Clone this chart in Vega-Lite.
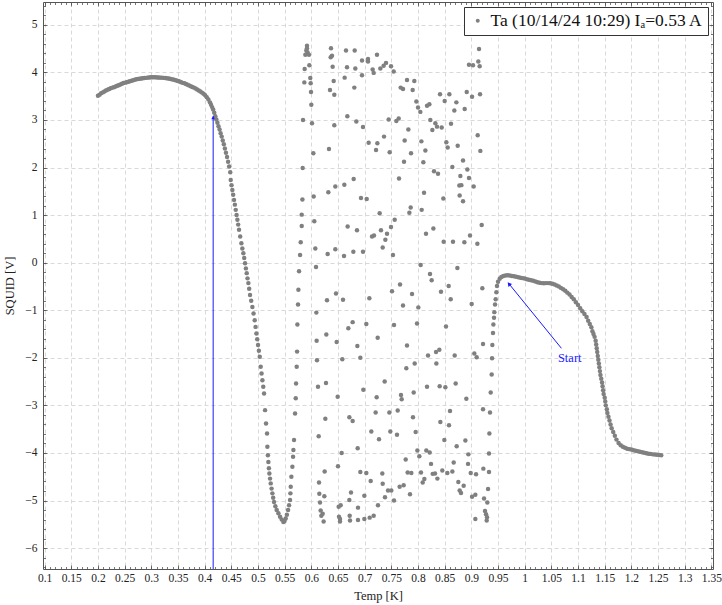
{
"$schema":"https://vega.github.io/schema/vega-lite/v6.json",
"width":670,"height":567,"autosize":"none",
"padding":{"left":43,"top":2,"right":9,"bottom":36},
"config":{"view":{"stroke":null},
"axis":{"labelFont":"Liberation Serif","titleFont":"Liberation Serif","labelFontSize":11.5,"titleFontSize":12.5,"titleFontWeight":"normal","domainColor":"#555","tickColor":"#555","labelColor":"#222","titleColor":"#222","gridColor":"#d9d9d9","gridDash":[4,3],"tickWidth":0.8,"domainWidth":1},
"legend":{"labelFont":"Liberation Serif","labelFontSize":17.5,"labelLimit":500,"labelColor":"#111","strokeColor":"#333","fillColor":"white","padding":5,"offset":5,"symbolSize":16,"symbolType":"circle","symbolStrokeWidth":0,"labelOffset":4,"cornerRadius":0}},
"datasets":{
"pts":[
{"T":0.2,"V":3.51},{"T":0.203,"V":3.53},{"T":0.206,"V":3.56},{"T":0.209,"V":3.58},{"T":0.212,"V":3.6},{"T":0.215,"V":3.62},{"T":0.218,"V":3.635},{"T":0.221,"V":3.65},{"T":0.224,"V":3.665},{"T":0.227,"V":3.68},{"T":0.23,"V":3.69},{"T":0.233,"V":3.705},{"T":0.236,"V":3.72},{"T":0.239,"V":3.73},{"T":0.242,"V":3.745},{"T":0.245,"V":3.76},{"T":0.248,"V":3.775},{"T":0.251,"V":3.785},{"T":0.254,"V":3.795},{"T":0.257,"V":3.805},{"T":0.26,"V":3.815},{"T":0.263,"V":3.825},{"T":0.266,"V":3.835},{"T":0.269,"V":3.845},{"T":0.272,"V":3.855},{"T":0.275,"V":3.86},{"T":0.278,"V":3.865},{"T":0.281,"V":3.87},{"T":0.284,"V":3.875},{"T":0.287,"V":3.88},{"T":0.29,"V":3.885},{"T":0.293,"V":3.89},{"T":0.296,"V":3.895},{"T":0.299,"V":3.9},{"T":0.302,"V":3.9},{"T":0.305,"V":3.9},{"T":0.308,"V":3.9},{"T":0.311,"V":3.895},{"T":0.314,"V":3.895},{"T":0.317,"V":3.89},{"T":0.32,"V":3.89},{"T":0.323,"V":3.885},{"T":0.326,"V":3.88},{"T":0.329,"V":3.875},{"T":0.332,"V":3.87},{"T":0.335,"V":3.865},{"T":0.338,"V":3.855},{"T":0.341,"V":3.85},{"T":0.344,"V":3.84},{"T":0.347,"V":3.83},{"T":0.35,"V":3.82},{"T":0.353,"V":3.81},{"T":0.356,"V":3.795},{"T":0.359,"V":3.78},{"T":0.362,"V":3.77},{"T":0.365,"V":3.755},{"T":0.368,"V":3.74},{"T":0.371,"V":3.725},{"T":0.374,"V":3.71},{"T":0.377,"V":3.695},{"T":0.38,"V":3.68},{"T":0.383,"V":3.66},{"T":0.386,"V":3.64},{"T":0.389,"V":3.62},{"T":0.392,"V":3.6},{"T":0.395,"V":3.575},{"T":0.398,"V":3.55},{"T":0.401,"V":3.52},{"T":0.404,"V":3.48},{"T":0.407,"V":3.43},{"T":0.41,"V":3.37},{"T":0.412,"V":3.32},{"T":0.414,"V":3.27},{"T":0.416,"V":3.22},{"T":0.418,"V":3.15},{"T":0.42,"V":3.08},{"T":0.422,"V":3.01},{"T":0.424,"V":2.94},{"T":0.426,"V":2.87},{"T":0.428,"V":2.8},{"T":0.43,"V":2.72},{"T":0.432,"V":2.65},{"T":0.434,"V":2.57},{"T":0.436,"V":2.49},{"T":0.438,"V":2.4},{"T":0.44,"V":2.31},{"T":0.442,"V":2.22},{"T":0.444,"V":2.12},{"T":0.446,"V":2.02},{"T":0.448,"V":1.9},
{"T":0.4489,"V":1.74},{"T":0.4504,"V":1.63},{"T":0.452,"V":1.53},{"T":0.4535,"V":1.43},{"T":0.4551,"V":1.32},{"T":0.4567,"V":1.22},{"T":0.4583,"V":1.11},{"T":0.4599,"V":1.0},{"T":0.4614,"V":0.9},{"T":0.4629,"V":0.8},{"T":0.4645,"V":0.69},{"T":0.4667,"V":0.55},{"T":0.4689,"V":0.41},{"T":0.4707,"V":0.3},{"T":0.4726,"V":0.2},{"T":0.4742,"V":0.1},{"T":0.4758,"V":-0.01},{"T":0.4773,"V":-0.12},{"T":0.4789,"V":-0.22},{"T":0.4804,"V":-0.33},{"T":0.482,"V":-0.43},{"T":0.4835,"V":-0.55},{"T":0.4851,"V":-0.68},{"T":0.4873,"V":-0.8},{"T":0.4895,"V":-0.93},{"T":0.4917,"V":-1.07},{"T":0.4939,"V":-1.21},{"T":0.4955,"V":-1.35},{"T":0.497,"V":-1.49},{"T":0.4986,"V":-1.61},{"T":0.5001,"V":-1.73},{"T":0.5017,"V":-1.85},{"T":0.5033,"V":-1.98},{"T":0.5051,"V":-2.19},{"T":0.5067,"V":-2.33},{"T":0.5083,"V":-2.47},{"T":0.5099,"V":-2.61},{"T":0.5114,"V":-2.75},{"T":0.5133,"V":-3.1},{"T":0.5151,"V":-3.38},{"T":0.517,"V":-3.59},{"T":0.5176,"V":-3.87},{"T":0.5186,"V":-4.05},{"T":0.5195,"V":-4.19},{"T":0.5205,"V":-4.32},{"T":0.5214,"V":-4.43},{"T":0.5226,"V":-4.54},{"T":0.5239,"V":-4.64},{"T":0.5255,"V":-4.75},{"T":0.527,"V":-4.85},{"T":0.5285,"V":-4.94},{"T":0.5301,"V":-5.03},{"T":0.5326,"V":-5.12},{"T":0.5351,"V":-5.2},{"T":0.5383,"V":-5.27},{"T":0.5414,"V":-5.34},{"T":0.5445,"V":-5.4},{"T":0.5476,"V":-5.45},{"T":0.5498,"V":-5.43},{"T":0.552,"V":-5.38},{"T":0.5542,"V":-5.3},{"T":0.5564,"V":-5.2},{"T":0.5583,"V":-5.1},{"T":0.5601,"V":-4.99},{"T":0.5608,"V":-4.85},{"T":0.5614,"V":-4.71},{"T":0.5626,"V":-4.5},{"T":0.5645,"V":-4.29},{"T":0.5658,"V":-4.08},{"T":0.5664,"V":-3.94},{"T":0.5676,"V":-3.73},{"T":0.5695,"V":-3.17},{"T":0.5708,"V":-2.85},{"T":0.5714,"V":-2.54},{"T":0.5726,"V":-2.19},{"T":0.5733,"V":-1.87},{"T":0.5739,"V":-1.3},{"T":0.5751,"V":-0.88},{"T":0.5758,"V":-0.57},{"T":0.577,"V":-0.18},{"T":0.5789,"V":0.16},{"T":0.5801,"V":0.43},{"T":0.582,"V":0.77},{"T":0.582,"V":1.01},{"T":0.5833,"V":1.33},{"T":0.5838,"V":1.99},{"T":0.5844,"V":3.0},{"T":0.5869,"V":3.79},{"T":0.5875,"V":4.07},
{"T":0.5919,"V":4.56},{"T":0.5919,"V":4.51},{"T":0.5906,"V":4.46},{"T":0.5931,"V":4.42},{"T":0.5888,"V":4.37},{"T":0.5956,"V":4.37},
{"T":0.6369,"V":4.51},{"T":0.6363,"V":4.32},{"T":0.6388,"V":4.35},{"T":0.665,"V":4.46},{"T":0.6813,"V":4.46},{"T":0.5963,"V":4.15},{"T":0.64,"V":4.12},{"T":0.6669,"V":4.11},{"T":0.6825,"V":4.08},{"T":0.695,"V":4.25},{"T":0.7063,"V":4.28},{"T":0.7063,"V":4.23},{"T":0.715,"V":4.06},{"T":0.7169,"V":3.99},{"T":0.7231,"V":4.37},{"T":0.7294,"V":4.08},{"T":0.7356,"V":4.14},{"T":0.74,"V":4.2},{"T":0.7494,"V":4.13},{"T":0.7544,"V":4.02},{"T":0.5981,"V":3.88},{"T":0.5988,"V":3.77},{"T":0.5994,"V":3.59},{"T":0.6419,"V":3.82},{"T":0.635,"V":3.63},{"T":0.6431,"V":3.53},{"T":0.6625,"V":3.89},{"T":0.695,"V":3.94},{"T":0.6806,"V":3.68},{"T":0.6,"V":3.32},{"T":0.6013,"V":2.93},{"T":0.6675,"V":3.08},{"T":0.6844,"V":2.97},{"T":0.6431,"V":2.89},{"T":0.6969,"V":2.85},{"T":0.745,"V":3.01},{"T":0.7075,"V":2.52},{"T":0.7238,"V":2.51},{"T":0.7213,"V":2.37},{"T":0.7363,"V":2.65},{"T":0.7469,"V":2.32},{"T":0.6331,"V":2.39},{"T":0.6038,"V":2.3},{"T":0.6794,"V":1.76},{"T":0.6619,"V":1.64},{"T":0.645,"V":1.6},{"T":0.6319,"V":1.48},{"T":0.6044,"V":1.39},{"T":0.6931,"V":1.36},{"T":0.7038,"V":1.34},{"T":0.7281,"V":1.04},{"T":0.6056,"V":0.87},{"T":0.6681,"V":0.76},{"T":0.6856,"V":0.68},{"T":0.7563,"V":0.9},{"T":0.7138,"V":0.55},{"T":0.7175,"V":0.57},{"T":0.7306,"V":0.68},{"T":0.7494,"V":0.75},{"T":0.7419,"V":0.61},{"T":0.7388,"V":0.48},{"T":0.6075,"V":0.3},{"T":0.645,"V":0.28},{"T":0.6306,"V":0.18},{"T":0.6613,"V":0.14},{"T":0.6788,"V":0.23},{"T":0.6969,"V":0.23},{"T":0.7338,"V":0.32},{"T":0.7531,"V":0.16},{"T":0.6088,"V":-0.09},
{"T":0.9144,"V":4.49},{"T":0.8956,"V":4.16},{"T":0.9031,"V":4.15},{"T":0.9131,"V":4.23},{"T":0.9156,"V":4.13},{"T":0.7794,"V":3.84},{"T":0.7931,"V":3.82},{"T":0.7675,"V":3.68},{"T":0.7719,"V":3.65},{"T":0.79,"V":3.63},{"T":0.8413,"V":3.54},{"T":0.8588,"V":3.54},{"T":0.8913,"V":3.59},{"T":0.9163,"V":3.54},{"T":0.9013,"V":3.49},{"T":0.7969,"V":3.39},{"T":0.85,"V":3.4},{"T":0.8719,"V":3.37},{"T":0.8,"V":3.26},{"T":0.8169,"V":3.3},{"T":0.8213,"V":3.33},{"T":0.8044,"V":3.17},{"T":0.8681,"V":3.2},{"T":0.8875,"V":3.23},{"T":0.7594,"V":2.98},{"T":0.7638,"V":3.03},{"T":0.8231,"V":3.0},{"T":0.8325,"V":2.93},{"T":0.8356,"V":2.86},{"T":0.8444,"V":2.84},{"T":0.8269,"V":2.79},{"T":0.8619,"V":2.92},{"T":0.7819,"V":2.8},{"T":0.9119,"V":2.68},{"T":0.775,"V":2.57},{"T":0.8063,"V":2.55},{"T":0.8531,"V":2.53},{"T":0.7869,"V":2.3},{"T":0.8138,"V":2.36},{"T":0.8556,"V":2.42},{"T":0.8744,"V":2.46},{"T":0.9169,"V":2.35},{"T":0.7738,"V":2.12},{"T":0.81,"V":2.11},{"T":0.8844,"V":2.15},{"T":0.8644,"V":2.01},{"T":0.83,"V":1.92},{"T":0.8375,"V":1.87},{"T":0.8925,"V":1.96},{"T":0.7644,"V":1.77},{"T":0.8794,"V":1.82},{"T":0.8956,"V":1.78},{"T":0.8775,"V":1.62},{"T":0.8813,"V":1.63},{"T":0.9044,"V":1.6},{"T":0.8113,"V":1.47},{"T":0.8475,"V":1.35},{"T":0.8781,"V":1.41},{"T":0.8844,"V":1.29},{"T":0.7863,"V":1.16},{"T":0.7838,"V":1.05},{"T":0.8069,"V":1.11},{"T":0.9194,"V":0.79},{"T":0.815,"V":0.61},{"T":0.8288,"V":0.72},{"T":0.8975,"V":0.57},{"T":0.8481,"V":0.44},{"T":0.8656,"V":0.44},{"T":0.8869,"V":0.43},{"T":0.9113,"V":0.4},{"T":0.805,"V":-0.05},{"T":0.8738,"V":-0.11},{"T":0.8225,"V":-0.24},{"T":0.8256,"V":-0.37},{"T":0.7663,"V":-0.46},{"T":0.8575,"V":-0.49},{"T":0.9206,"V":-0.54},
{"T":0.6463,"V":-0.65},{"T":0.6294,"V":-0.79},{"T":0.6594,"V":-0.78},{"T":0.7088,"V":-0.75},{"T":0.7513,"V":-0.6},{"T":0.6094,"V":-1.05},{"T":0.6775,"V":-1.25},{"T":0.6694,"V":-1.38},{"T":0.7031,"V":-1.29},{"T":0.755,"V":-1.31},{"T":0.6281,"V":-1.51},{"T":0.61,"V":-1.64},{"T":0.6475,"V":-1.67},{"T":0.7244,"V":-1.58},{"T":0.6863,"V":-1.75},{"T":0.6106,"V":-2.05},{"T":0.6581,"V":-2.03},{"T":0.6919,"V":-2.0},{"T":0.6125,"V":-2.61},{"T":0.6275,"V":-2.53},{"T":0.7375,"V":-2.5},{"T":0.6975,"V":-2.67},{"T":0.6494,"V":-2.82},{"T":0.7225,"V":-2.83},{"T":0.7206,"V":-3.15},{"T":0.7463,"V":-3.15},{"T":0.6263,"V":-3.28},{"T":0.6713,"V":-3.25},{"T":0.6775,"V":-3.33},{"T":0.6138,"V":-3.65},{"T":0.7125,"V":-3.55},{"T":0.7481,"V":-3.55},{"T":0.7269,"V":-3.71},{"T":0.6869,"V":-3.9},{"T":0.6569,"V":-4.0},{"T":0.65,"V":-4.28},{"T":0.625,"V":-4.39},{"T":0.6919,"V":-4.4},{"T":0.7031,"V":-4.42},{"T":0.7331,"V":-4.43},{"T":0.6144,"V":-4.62},{"T":0.7113,"V":-4.59},{"T":0.7338,"V":-4.65},{"T":0.7438,"V":-4.79},{"T":0.75,"V":-4.79},{"T":0.615,"V":-4.86},{"T":0.6244,"V":-4.91},{"T":0.6744,"V":-4.83},{"T":0.6994,"V":-4.9},{"T":0.7381,"V":-4.93},{"T":0.6713,"V":-4.99},{"T":0.755,"V":-5.0},{"T":0.6163,"V":-5.04},{"T":0.655,"V":-5.1},{"T":0.6513,"V":-5.13},{"T":0.6875,"V":-5.15},{"T":0.725,"V":-5.1},{"T":0.6175,"V":-5.21},{"T":0.6213,"V":-5.28},{"T":0.6188,"V":-5.32},{"T":0.6231,"V":-5.44},{"T":0.6519,"V":-5.34},{"T":0.6538,"V":-5.39},{"T":0.6538,"V":-5.44},{"T":0.6719,"V":-5.32},{"T":0.6725,"V":-5.42},{"T":0.6875,"V":-5.41},{"T":0.6994,"V":-5.39},{"T":0.7094,"V":-5.36},{"T":0.7169,"V":-5.32},
{"T":0.7888,"V":-0.66},{"T":0.8431,"V":-0.61},{"T":0.8613,"V":-0.77},{"T":0.7719,"V":-0.9},{"T":0.8006,"V":-0.94},{"T":0.9006,"V":-0.87},{"T":0.7981,"V":-1.28},{"T":0.8525,"V":-1.34},{"T":0.7794,"V":-1.74},{"T":0.9219,"V":-1.71},{"T":0.8188,"V":-1.95},{"T":0.8338,"V":-1.88},{"T":0.84,"V":-1.83},{"T":0.8688,"V":-1.95},{"T":0.9056,"V":-1.91},{"T":0.91,"V":-1.99},{"T":0.7938,"V":-2.12},{"T":0.7781,"V":-2.22},{"T":0.8344,"V":-2.12},{"T":0.8169,"V":-2.61},{"T":0.8406,"V":-2.6},{"T":0.8513,"V":-2.62},{"T":0.8706,"V":-2.54},{"T":0.7919,"V":-2.73},{"T":0.7681,"V":-2.78},{"T":0.7694,"V":-2.87},{"T":0.8906,"V":-2.86},{"T":0.7619,"V":-3.11},{"T":0.7906,"V":-3.25},{"T":0.86,"V":-3.12},{"T":0.8419,"V":-3.35},{"T":0.8581,"V":-3.42},{"T":0.9219,"V":-3.08},{"T":0.7606,"V":-3.62},{"T":0.7956,"V":-3.56},{"T":0.8494,"V":-3.73},{"T":0.8725,"V":-3.86},{"T":0.8888,"V":-3.74},{"T":0.7988,"V":-3.95},{"T":0.8025,"V":-4.07},{"T":0.8156,"V":-3.95},{"T":0.8219,"V":-3.99},{"T":0.7769,"V":-4.14},{"T":0.8944,"V":-4.03},{"T":0.8244,"V":-4.23},{"T":0.8669,"V":-4.2},{"T":0.8938,"V":-4.23},{"T":0.7806,"V":-4.41},{"T":0.7875,"V":-4.42},{"T":0.8056,"V":-4.41},{"T":0.8275,"V":-4.44},{"T":0.8319,"V":-4.43},{"T":0.8456,"V":-4.37},{"T":0.855,"V":-4.42},{"T":0.8644,"V":-4.39},{"T":0.8988,"V":-4.42},{"T":0.9088,"V":-4.45},{"T":0.9225,"V":-4.33},{"T":0.9331,"V":-4.4},{"T":0.8119,"V":-4.55},{"T":0.8088,"V":-4.62},{"T":0.8363,"V":-4.54},{"T":0.8756,"V":-4.61},{"T":0.8856,"V":-4.69},{"T":0.7656,"V":-4.71},{"T":0.7731,"V":-4.68},{"T":0.785,"V":-4.87},{"T":0.8781,"V":-4.79},{"T":0.8806,"V":-4.84},{"T":0.9313,"V":-4.76},{"T":0.9013,"V":-4.92},{"T":0.9075,"V":-4.88},{"T":0.9238,"V":-4.96},{"T":0.93,"V":-5.04},{"T":0.9256,"V":-5.22},{"T":0.9275,"V":-5.29},{"T":0.9294,"V":-5.35},{"T":0.9288,"V":-5.42},{"T":0.9075,"V":-5.39},
{"T":0.9331,"V":-4.01},{"T":0.9338,"V":-3.59},{"T":0.935,"V":-3.15},{"T":0.9363,"V":-2.73},{"T":0.9381,"V":-2.35},{"T":0.9388,"V":-2.01},{"T":0.9394,"V":-1.73},{"T":0.9406,"V":-1.48},{"T":0.9413,"V":-1.3},{"T":0.9425,"V":-1.16},{"T":0.9431,"V":-1.04},{"T":0.9444,"V":-0.88},{"T":0.9456,"V":-0.77},{"T":0.9469,"V":-0.62},{"T":0.9481,"V":-0.49},{"T":0.95,"V":-0.4},{"T":0.9531,"V":-0.34},{"T":0.9563,"V":-0.3},
{"T":0.96,"V":-0.28},{"T":0.964,"V":-0.27},{"T":0.968,"V":-0.265},{"T":0.972,"V":-0.27},{"T":0.976,"V":-0.28},{"T":0.98,"V":-0.285},{"T":0.984,"V":-0.295},{"T":0.988,"V":-0.305},{"T":0.992,"V":-0.315},{"T":0.996,"V":-0.325},{"T":1.0,"V":-0.335},{"T":1.004,"V":-0.35},{"T":1.008,"V":-0.36},{"T":1.012,"V":-0.37},{"T":1.016,"V":-0.38},{"T":1.02,"V":-0.395},{"T":1.024,"V":-0.41},{"T":1.028,"V":-0.42},{"T":1.032,"V":-0.43},{"T":1.036,"V":-0.435},{"T":1.04,"V":-0.43},{"T":1.044,"V":-0.43},{"T":1.048,"V":-0.435},{"T":1.052,"V":-0.445},{"T":1.056,"V":-0.46},{"T":1.06,"V":-0.48},{"T":1.064,"V":-0.5},{"T":1.068,"V":-0.53},{"T":1.072,"V":-0.56},{"T":1.076,"V":-0.59},{"T":1.08,"V":-0.63},{"T":1.084,"V":-0.67},{"T":1.088,"V":-0.72},{"T":1.092,"V":-0.77},{"T":1.096,"V":-0.83},{"T":1.1,"V":-0.89},{"T":1.104,"V":-0.96},{"T":1.108,"V":-1.02},{"T":1.112,"V":-1.08},{"T":1.116,"V":-1.14},{"T":1.119,"V":-1.22},{"T":1.122,"V":-1.29},{"T":1.125,"V":-1.36},{"T":1.127,"V":-1.44},{"T":1.129,"V":-1.5},{"T":1.131,"V":-1.56},{"T":1.133,"V":-1.64},{"T":1.134,"V":-1.72},{"T":1.135,"V":-1.8},{"T":1.136,"V":-1.88},{"T":1.137,"V":-1.96},{"T":1.138,"V":-2.04},{"T":1.139,"V":-2.12},{"T":1.14,"V":-2.2},{"T":1.141,"V":-2.28},{"T":1.142,"V":-2.36},{"T":1.1435,"V":-2.44},{"T":1.145,"V":-2.52},{"T":1.146,"V":-2.6},{"T":1.147,"V":-2.68},{"T":1.148,"V":-2.76},{"T":1.15,"V":-2.84},{"T":1.151,"V":-2.92},{"T":1.152,"V":-3.0},{"T":1.154,"V":-3.08},{"T":1.155,"V":-3.16},{"T":1.157,"V":-3.24},{"T":1.159,"V":-3.32},{"T":1.161,"V":-3.4},{"T":1.163,"V":-3.48},{"T":1.166,"V":-3.56},{"T":1.169,"V":-3.64},{"T":1.172,"V":-3.72},{"T":1.176,"V":-3.79},{"T":1.18,"V":-3.84},{"T":1.184,"V":-3.87},{"T":1.188,"V":-3.89},{"T":1.192,"V":-3.91},{"T":1.196,"V":-3.92},{"T":1.2,"V":-3.93},{"T":1.204,"V":-3.945},{"T":1.208,"V":-3.955},{"T":1.212,"V":-3.965},{"T":1.216,"V":-3.975},{"T":1.22,"V":-3.985},{"T":1.224,"V":-3.995},{"T":1.228,"V":-4.005},{"T":1.232,"V":-4.015},{"T":1.236,"V":-4.02},{"T":1.24,"V":-4.03},{"T":1.244,"V":-4.035},{"T":1.248,"V":-4.04},{"T":1.252,"V":-4.045},{"T":1.256,"V":-4.05}
],
"vline":[{"T":0.416,"V":-6.44,"V2":3.08}],
"vhead":[{"T":0.416,"V":3.05}],
"arrow":[{"T":1.0688,"V":-1.8,"T2":0.9695,"V2":-0.43}],
"ahead":[{"T":0.9705,"V":-0.445}],
"label":[{"T":1.0844,"V":-2.01,"txt":"Start"}]
},
"resolve":{"axis":{"x":"independent","y":"independent"}},
"layer":[
{"data":{"name":"pts"},"mark":{"type":"circle","size":20,"opacity":1},
"encoding":{
"x":{"field":"T","type":"quantitative","scale":{"domain":[0.097,1.353],"nice":false,"zero":false},
"axis":{"orient":"bottom","values":[0.1,0.15,0.2,0.25,0.3,0.35,0.4,0.45,0.5,0.55,0.6,0.65,0.7,0.75,0.8,0.85,0.9,0.95,1,1.05,1.1,1.15,1.2,1.25,1.3,1.35],"labelExpr":"''+round(datum.value*100)/100","grid":true,"tickSize":-4,"labelPadding":7,"labelFlush":false,"labelOverlap":false,"labelBound":false,"title":"Temp [K]","titlePadding":6}},
"y":{"field":"V","type":"quantitative","scale":{"domain":[-6.44,5.48],"nice":false,"zero":false},
"axis":{"orient":"left","values":[-6,-5,-4,-3,-2,-1,0,1,2,3,4,5],"labelExpr":"datum.value<0?'\u2212'+abs(datum.value):''+datum.value","grid":true,"tickSize":-4,"labelPadding":10,"labelFlush":false,"labelOverlap":false,"title":"SQUID [V]","titlePadding":8}},
"color":{"datum":"Ta (10/14/24 10:29) I\u2090=0.53 A","type":"nominal","scale":{"range":["#808080"]},"legend":{"title":null,"orient":"top-right"}}}},
{"data":{"name":"vline"},"mark":{"type":"rule","color":"#1a1aff","strokeWidth":1},
"encoding":{"x":{"field":"T","type":"quantitative","axis":{"orient":"top","values":[0.1,0.15,0.2,0.25,0.3,0.35,0.4,0.45,0.5,0.55,0.6,0.65,0.7,0.75,0.8,0.85,0.9,0.95,1,1.05,1.1,1.15,1.2,1.25,1.3,1.35],"labels":false,"grid":false,"tickSize":-4,"title":null}},
"y":{"field":"V","type":"quantitative","axis":{"orient":"right","values":[-6,-5,-4,-3,-2,-1,0,1,2,3,4,5],"labels":false,"grid":false,"tickSize":-4,"title":null}},
"y2":{"field":"V2"}}},
{"data":{"name":"arrow"},"mark":{"type":"rule","color":"#1a1aff","strokeWidth":1},
"encoding":{"x":{"field":"T","type":"quantitative","axis":{"orient":"bottom","tickCount":125,"labels":false,"grid":false,"domain":false,"tickSize":-2.5,"title":null}},
"y":{"field":"V","type":"quantitative","axis":{"orient":"left","tickCount":60,"labels":false,"grid":false,"domain":false,"tickSize":-2.5,"title":null}},
"x2":{"field":"T2"},"y2":{"field":"V2"}}},
{"data":{"name":"label"},"mark":{"type":"text","color":"#1a1aff","font":"Liberation Serif","fontSize":12.5,"align":"center","baseline":"middle"},
"encoding":{"x":{"field":"T","type":"quantitative","axis":{"orient":"top","tickCount":125,"labels":false,"grid":false,"domain":false,"tickSize":-2.5,"title":null}},
"y":{"field":"V","type":"quantitative","axis":{"orient":"right","tickCount":60,"labels":false,"grid":false,"domain":false,"tickSize":-2.5,"title":null}},
"text":{"field":"txt"}}},
{"data":{"name":"vhead"},"mark":{"type":"point","shape":"triangle-up","filled":true,"size":14,"color":"#1a1aff","opacity":1},
"encoding":{"x":{"field":"T","type":"quantitative","axis":null},"y":{"field":"V","type":"quantitative","axis":null}}},
{"data":{"name":"ahead"},"mark":{"type":"point","shape":"triangle-up","filled":true,"size":22,"angle":321,"color":"#1a1aff","opacity":1},
"encoding":{"x":{"field":"T","type":"quantitative","axis":null},"y":{"field":"V","type":"quantitative","axis":null}}}
]
}
